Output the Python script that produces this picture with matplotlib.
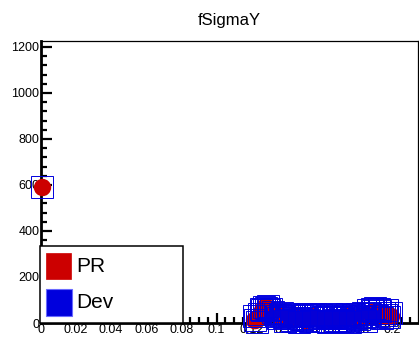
import matplotlib
matplotlib.use("Agg")
import matplotlib.pyplot as plt
from matplotlib.patches import Rectangle

plt.rcParams['font.family'] = ['Liberation Sans', 'DejaVu Sans']

# --- data ---
x_vals = [0.0008,
          0.121, 0.122, 0.123, 0.124, 0.125, 0.126, 0.127, 0.128, 0.129, 0.130,
          0.131, 0.132, 0.133, 0.134, 0.135, 0.136, 0.137, 0.138, 0.139, 0.140,
          0.141, 0.142, 0.143, 0.144, 0.145, 0.146, 0.147, 0.148, 0.149, 0.150,
          0.151, 0.152, 0.153, 0.154, 0.155, 0.156, 0.157, 0.158, 0.159, 0.160,
          0.161, 0.162, 0.163, 0.164, 0.165, 0.166, 0.167, 0.168, 0.169, 0.170,
          0.171, 0.172, 0.173, 0.174, 0.175, 0.176, 0.177, 0.178, 0.179, 0.180,
          0.181, 0.182, 0.183, 0.184, 0.185, 0.186, 0.187, 0.188, 0.189, 0.190,
          0.191, 0.192, 0.193, 0.194, 0.195, 0.196, 0.197, 0.198, 0.199]
pr_vals = [590,
           12, 15, 20, 32, 45, 58, 68, 70, 66, 60, 55, 48, 42, 38, 35, 30, 28, 24, 22, 20,
           18, 24, 30, 34, 36, 30, 25, 20, 18, 14, 12, 20, 26, 28, 30, 26, 22, 18, 16, 14,
           12, 18, 22, 26, 28, 22, 18, 16, 15, 18, 20, 24, 25, 28, 30, 26, 22, 20, 18, 22,
           25, 28, 30, 34, 35, 38, 42, 46, 48, 46, 45, 42, 40, 36, 32, 38, 36, 32, 30]
dev_vals = [590,
            30, 15, 5, 40, 62, 55, 70, 65, 72, 55, 62, 48, 40, 30, 20, 35, 45, 25, 8, 30,
            35, 20, 12, 30, 40, 22, 5, 18, 30, 38, 35, 15, 8, 22, 35, 38, 10, 22, 35, 28,
            10, 30, 5, 25, 38, 20, 8, 15, 35, 28, 20, 8, 30, 38, 15, 5, 28, 35, 20, 40,
            18, 30, 45, 25, 10, 55, 40, 62, 50, 65, 30, 60, 50, 20, 45, 35, 55, 25, 45]

x_ticks = [0, 0.02, 0.04, 0.06, 0.08, 0.1, 0.12, 0.14, 0.16, 0.18, 0.2]
x_tick_labels = ['0', '0.02', '0.04', '0.06', '0.08', '0.1', '0.12', '0.14', '0.16', '0.18', '0.2']
y_ticks = [0, 200, 400, 600, 800, 1000, 1200]

W, H = 419, 339
fig = plt.figure(figsize=(W / 100, H / 100), dpi=100)
ax = fig.add_axes([40.7 / W, 1 - 323 / H, (418 - 40.7) / W, (323 - 40.7) / H])

red = '#cc0000'
blue = '#0000dd'

ax.plot(x_vals, pr_vals, 'o', color=red, markersize=12.5, markeredgewidth=0,
        clip_on=False, zorder=3)
ax.plot(x_vals, dev_vals, 's', markerfacecolor='none', markeredgecolor=blue,
        markersize=15.5, markeredgewidth=0.7, clip_on=False, zorder=4)

ax.set_xlim(0, 0.2144)
ax.set_ylim(0, 1227)
ax.set_xticks(x_ticks)
ax.set_xticklabels(x_tick_labels)
ax.set_xticks([i * 0.005 for i in range(43)], minor=True)
ax.set_yticks(y_ticks)
ax.set_yticks([i * 40 for i in range(31)], minor=True)

ax.tick_params(axis='both', which='both', direction='in', labelsize=9, color='black')
ax.tick_params(axis='y', which='major', length=8, width=1.6, pad=1)
ax.tick_params(axis='y', which='minor', length=4.5, width=1.6)
ax.tick_params(axis='x', which='major', length=7, width=1.6, pad=1)
ax.tick_params(axis='x', which='minor', length=4, width=1.6)

for side in ['left', 'bottom']:
    ax.spines[side].set_linewidth(2.0)
for side in ['top', 'right']:
    ax.spines[side].set_linewidth(0.9)

fig.text(229 / W, 1 - 20 / H, 'fSigmaY', ha='center', va='center', fontsize=12)

# legend box (ROOT style, lower left corner)
def px(x, y):
    return x / W, 1 - y / H

fig.add_artist(Rectangle(px(40, 323), 143 / W, 77 / H, transform=fig.transFigure,
                         facecolor='white', edgecolor='black', linewidth=1.1, zorder=5))
fig.add_artist(Rectangle(px(46, 279), 25 / W, 26 / H, transform=fig.transFigure,
                         facecolor=red, edgecolor=red, linewidth=0.5, zorder=6))
fig.add_artist(Rectangle(px(46, 316), 26 / W, 27 / H, transform=fig.transFigure,
                         facecolor=blue, edgecolor='#6a6aff', linewidth=0.8, zorder=6))
fig.text(*px(76, 266), 'PR', ha='left', va='center', fontsize=15, zorder=7)
fig.text(*px(76, 302), 'Dev', ha='left', va='center', fontsize=15, zorder=7)

fig.savefig('out.png', dpi=100)
